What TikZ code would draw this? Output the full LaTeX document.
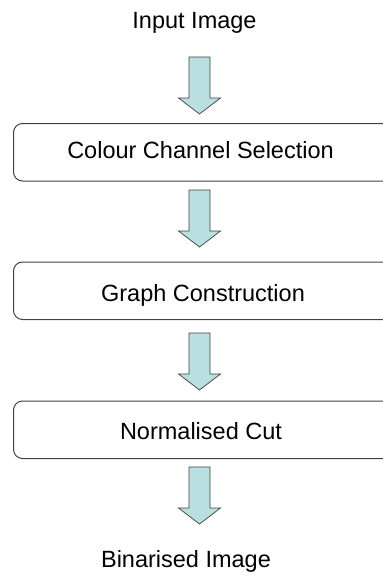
\documentclass[tikz,border=0pt]{standalone}
\usepackage{fontspec}
\setmainfont{Liberation Sans}
\definecolor{arrowfill}{HTML}{B9DFE1}
\definecolor{edgegray}{HTML}{404040}
\begin{document}
\begin{tikzpicture}[x=1pt,y=-1pt,
  label/.style={inner sep=0pt, anchor=base, font=\fontsize{23.5}{26}\selectfont},
  stepbox/.style={draw=edgegray, line width=1pt, rounded corners=9pt,
    minimum width=390pt, minimum height=57.5pt, inner sep=0pt, anchor=north west},
  blockarrow/.style={draw=edgegray, line width=0.7pt, fill=arrowfill, line join=miter}]
\useasboundingbox (0,0) rectangle (383,576);
\clip (0,0) rectangle (383,576);
% process boxes (they run past the right margin)
\node[stepbox] (ccs) at (13,123) {};
\node[stepbox] (gc) at (13,261.5) {};
\node[stepbox] (nc) at (13,400.5) {};
% captions and box texts
\node[label] (in) at (194.5,28.3) {Input Image};
\node[label] (ccs-t) at (200.5,158) {Colour Channel Selection};
\node[label] (gc-t) at (203,301) {Graph Construction};
\node[label] (nc-t) at (201,439) {Normalised Cut};
\node[label] (out) at (186,567) {Binarised Image};
% block arrow: shaft 21pt wide, head 42pt wide and 16pt long
\newcommand\blockarrowat[2]{%
  \draw[blockarrow] (#1-10.5,#2) -- (#1+10.5,#2) -- (#1+10.5,#2+41)
    -- (#1+21,#2+41) -- (#1,#2+57) -- (#1-21,#2+41) -- (#1-10.5,#2+41) -- cycle;}
\blockarrowat{199.5}{57}
\blockarrowat{199.5}{190}
\blockarrowat{199.5}{333}
\blockarrowat{199.5}{467}
\end{tikzpicture}
\end{document}
